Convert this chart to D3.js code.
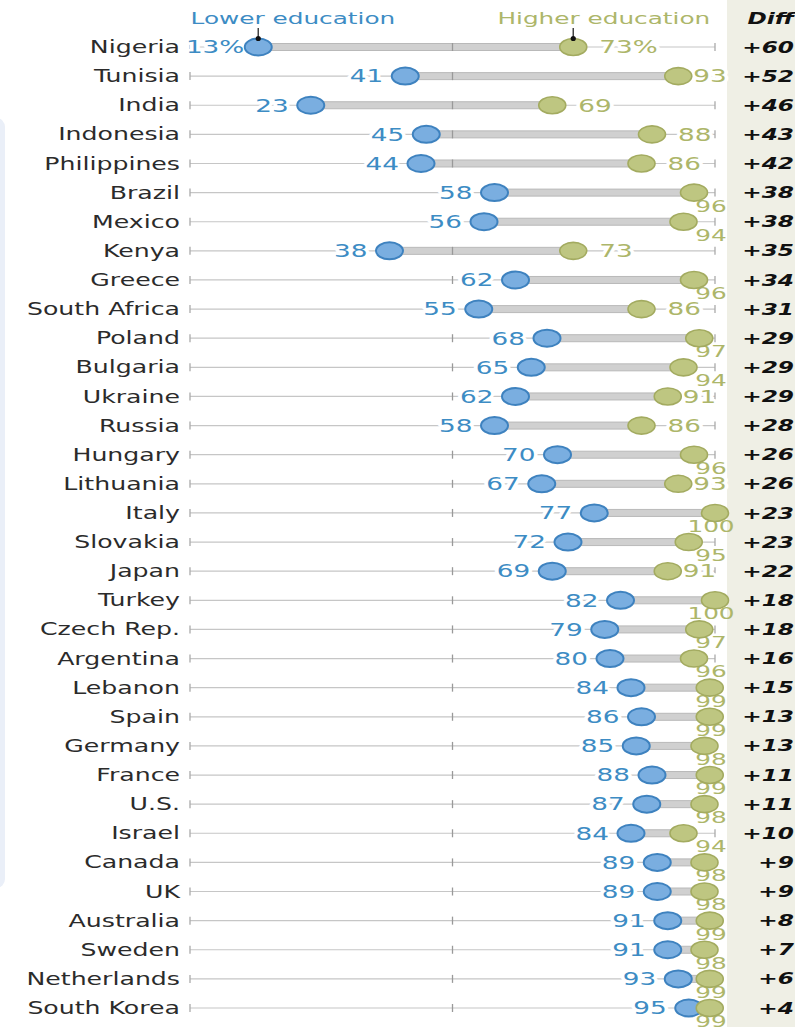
<!DOCTYPE html>
<html>
<head>
<meta charset="utf-8">
<script src="https://cdn.jsdelivr.net/npm/d3@7"></script>
<style>
  body { margin: 0; background: #fff; overflow: hidden; }
  svg { display: block; }
  text { font-family: "DejaVu Sans", sans-serif; }
</style>
</head>
<body>
<svg width="795" height="1027"></svg>
<script>
// values
const countries = ["Nigeria","Tunisia","India","Indonesia","Philippines","Brazil","Mexico","Kenya","Greece","South Africa",
  "Poland","Bulgaria","Ukraine","Russia","Hungary","Lithuania","Italy","Slovakia","Japan","Turkey","Czech Rep.",
  "Argentina","Lebanon","Spain","Germany","France","U.S.","Israel","Canada","UK","Australia","Sweden","Netherlands","South Korea"];
const lower  = [13,41,23,45,44,58,56,38,62,55,68,65,62,58,70,67,77,72,69,82,79,80,84,86,85,88,87,84,89,89,91,91,93,95];
const higher = [73,93,69,88,86,96,94,73,96,86,97,94,91,86,96,93,100,95,91,100,97,96,99,99,98,99,98,94,98,98,99,98,99,99];
const diffs  = ["+60","+52","+46","+43","+42","+38","+38","+35","+34","+31","+29","+29","+29","+28","+26","+26","+23","+23",
  "+22","+18","+18","+16","+15","+13","+13","+11","+11","+10","+9","+9","+8","+7","+6","+4"];
const axisTicks = [0, 50, 100];
const seriesNames = ["Lower education", "Higher education"];
const diffTitle = "Diff";

const blue = "#3d8cc4", blueFill = "#7aaee0", blueStroke = "#3e82bf";
const green = "#adb66a", greenFill = "#bec681", greenStroke = "#a3ab60";
const SX = 1.5; // text in the source is stretched horizontally

const data = countries.map((c, i) => ({country: c, lo: lower[i], hi: higher[i], diff: diffs[i], i: i}));

const svg = d3.select("svg");
const x = d3.scaleLinear().domain([0, 100]).range([190, 715]);
const y = d3.scalePoint().domain(countries).range([47, 1008]);

// backgrounds
svg.append("rect").attr("x", 727).attr("y", 0).attr("width", 70).attr("height", 1027).attr("fill", "#efefe5");
svg.append("rect").attr("x", -12).attr("y", 118).attr("width", 17).attr("height", 770).attr("rx", 9)
  .attr("fill", "#eaeff8");

function stext(g, tx, ty, str, opts) {
  const t = g.append("text")
    .attr("transform", `translate(${tx},${ty}) scale(${SX},1)`)
    .attr("dy", "0.36em")
    .attr("text-anchor", opts.anchor || "start")
    .attr("font-size", opts.size || 17)
    .attr("fill", opts.fill || "#222")
    .text(str);
  if (opts.weight) t.attr("font-weight", opts.weight);
  if (opts.style) t.attr("font-style", opts.style);
  if (opts.halo) t.attr("stroke", "#fff").attr("stroke-width", 5).attr("paint-order", "stroke").attr("stroke-linejoin", "round");
  return t;
}
function move(t, tx, ty) {
  t.attr("transform", `translate(${tx},${ty}) scale(${SX},1)`);
}
const width = t => t.node().getComputedTextLength() * SX;

const rows = svg.append("g").selectAll("g").data(data).join("g")
  .attr("transform", d => `translate(0,${y(d.country)})`);

// thin axis line
rows.append("line").attr("x1", x(0)).attr("x2", x(100)).attr("stroke", "#c6c6c6").attr("stroke-width", 1.2);

// thick bar between the two dots
rows.append("rect")
  .attr("x", d => x(d.lo)).attr("width", d => x(d.hi) - x(d.lo))
  .attr("y", -3.5).attr("height", 7)
  .attr("fill", "#d0d0d0").attr("stroke", "#b9b9b9").attr("stroke-width", 1);

// ticks
rows.each(function() {
  const g = d3.select(this);
  axisTicks.forEach(t => {
    g.append("line").attr("x1", x(t)).attr("x2", x(t)).attr("y1", -4).attr("y2", 4)
      .attr("stroke", t === 50 ? "#999" : "#aaa").attr("stroke-width", 1.3);
  });
});

// country labels
rows.each(function(d) {
  stext(d3.select(this), 180, 0, d.country, {anchor: "end", fill: "#2b2b2b", size: 16.8});
});

// value labels
rows.each(function(d) {
  const g = d3.select(this);
  const pct = d.i === 0 ? "%" : "";
  const lx = x(d.lo);
  const tl = stext(g, lx - 22, 0, d.lo + pct, {anchor: "end", fill: blue, halo: true, size: 17.5});
  if (lx - 22 - width(tl) < 186) move(tl, lx - 14, 0);

  const cx = x(d.hi);
  if (d.hi >= 94) {
    stext(g, x(100) - 4, 13, d.hi + pct, {anchor: "middle", fill: green, size: 16.5});
  } else {
    const th = stext(g, cx + 26, 0, d.hi + pct, {anchor: "start", fill: green, halo: true, size: 17.5});
    if (cx + 26 + width(th) > x(100) + 4) move(th, cx + 15, 0);
  }
});

// dots
rows.append("ellipse").attr("cx", d => x(d.lo)).attr("rx", 13.5).attr("ry", 8.5)
  .attr("fill", blueFill).attr("stroke", blueStroke).attr("stroke-width", 2);
rows.append("ellipse").attr("cx", d => x(d.hi)).attr("rx", 13.5).attr("ry", 8.5)
  .attr("fill", greenFill).attr("stroke", greenStroke).attr("stroke-width", 1.6);

// difference column
rows.each(function(d) {
  stext(d3.select(this), 794, 0, d.diff, {anchor: "end", fill: "#111", weight: "bold", style: "italic", size: 15.5});
});

// header: series names with pointers to the first row
const first = data[0];
const y0 = y(first.country);
[[first.lo, seriesNames[0], blue], [first.hi, seriesNames[1], green]].forEach(([v, name, col]) => {
  svg.append("line").attr("x1", x(v)).attr("x2", x(v)).attr("y1", 28).attr("y2", y0 - 8)
    .attr("stroke", "#444").attr("stroke-width", 1.5);
  svg.append("circle").attr("cx", x(v)).attr("cy", y0 - 8.5).attr("r", 2.6).attr("fill", "#111");
  stext(svg, x(v) + 137, 18, name, {anchor: "end", fill: col, size: 16.5});
});
stext(svg, 794, 18, diffTitle, {anchor: "end", fill: "#111", weight: "bold", style: "italic", size: 15.5});
</script>
</body>
</html>
